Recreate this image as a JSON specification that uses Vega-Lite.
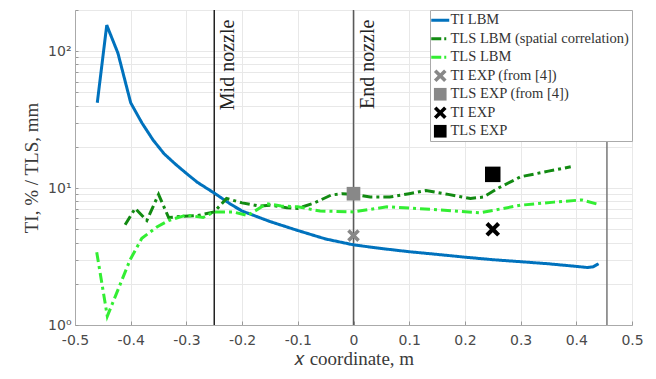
{
  "$schema": "https://vega.github.io/schema/vega-lite/v6.json",
  "width": 557,
  "height": 315,
  "autosize": {"type": "none"},
  "padding": {"left": 75, "top": 10, "right": 24, "bottom": 54},
  "background": "white",
  "config": {
    "view": {"stroke": "#c8c8c8", "strokeWidth": 1},
    "axis": {
      "labelFont": "DejaVu Sans",
      "labelFontSize": 14,
      "labelColor": "#4a4a4a",
      "labelFlush": false,
      "titleFont": "Liberation Serif",
      "titleFontSize": 19,
      "titleFontWeight": "normal",
      "titleColor": "#3a3a3a",
      "gridColor": "#e8e8e8",
      "gridWidth": 1,
      "domainColor": "#aaaaaa",
      "tickColor": "#999999"
    }
  },
  "datasets": {
    "curves": [
      {"series": "TI LBM", "x": -0.46, "y": 42},
      {"series": "TI LBM", "x": -0.443, "y": 155},
      {"series": "TI LBM", "x": -0.423, "y": 97},
      {"series": "TI LBM", "x": -0.4, "y": 42},
      {"series": "TI LBM", "x": -0.38, "y": 30},
      {"series": "TI LBM", "x": -0.36, "y": 22.5},
      {"series": "TI LBM", "x": -0.34, "y": 17.8},
      {"series": "TI LBM", "x": -0.32, "y": 15},
      {"series": "TI LBM", "x": -0.3, "y": 12.8},
      {"series": "TI LBM", "x": -0.28, "y": 11},
      {"series": "TI LBM", "x": -0.25, "y": 9.2},
      {"series": "TI LBM", "x": -0.22, "y": 7.6},
      {"series": "TI LBM", "x": -0.2, "y": 6.8},
      {"series": "TI LBM", "x": -0.15, "y": 5.7},
      {"series": "TI LBM", "x": -0.1, "y": 4.9},
      {"series": "TI LBM", "x": -0.05, "y": 4.25},
      {"series": "TI LBM", "x": 0, "y": 3.85},
      {"series": "TI LBM", "x": 0.05, "y": 3.62},
      {"series": "TI LBM", "x": 0.1, "y": 3.43},
      {"series": "TI LBM", "x": 0.15, "y": 3.28},
      {"series": "TI LBM", "x": 0.2, "y": 3.13},
      {"series": "TI LBM", "x": 0.25, "y": 3.0},
      {"series": "TI LBM", "x": 0.3, "y": 2.9},
      {"series": "TI LBM", "x": 0.35, "y": 2.8},
      {"series": "TI LBM", "x": 0.4, "y": 2.68},
      {"series": "TI LBM", "x": 0.42, "y": 2.63},
      {"series": "TI LBM", "x": 0.43, "y": 2.66},
      {"series": "TI LBM", "x": 0.44, "y": 2.8},
      {"series": "TLS LBM (spatial correlation)", "x": -0.41, "y": 5.4},
      {"series": "TLS LBM (spatial correlation)", "x": -0.392, "y": 7.1},
      {"series": "TLS LBM (spatial correlation)", "x": -0.371, "y": 5.8},
      {"series": "TLS LBM (spatial correlation)", "x": -0.35, "y": 9.0},
      {"series": "TLS LBM (spatial correlation)", "x": -0.332, "y": 6.1},
      {"series": "TLS LBM (spatial correlation)", "x": -0.31, "y": 6.2},
      {"series": "TLS LBM (spatial correlation)", "x": -0.28, "y": 6.3},
      {"series": "TLS LBM (spatial correlation)", "x": -0.25, "y": 6.7},
      {"series": "TLS LBM (spatial correlation)", "x": -0.228, "y": 8.4},
      {"series": "TLS LBM (spatial correlation)", "x": -0.2, "y": 7.8},
      {"series": "TLS LBM (spatial correlation)", "x": -0.17, "y": 7.4},
      {"series": "TLS LBM (spatial correlation)", "x": -0.15, "y": 7.5},
      {"series": "TLS LBM (spatial correlation)", "x": -0.12, "y": 7.2},
      {"series": "TLS LBM (spatial correlation)", "x": -0.1, "y": 7.1},
      {"series": "TLS LBM (spatial correlation)", "x": -0.07, "y": 7.8},
      {"series": "TLS LBM (spatial correlation)", "x": -0.04, "y": 8.9},
      {"series": "TLS LBM (spatial correlation)", "x": -0.02, "y": 9.1},
      {"series": "TLS LBM (spatial correlation)", "x": 0, "y": 9.0},
      {"series": "TLS LBM (spatial correlation)", "x": 0.03, "y": 8.6},
      {"series": "TLS LBM (spatial correlation)", "x": 0.065, "y": 8.6},
      {"series": "TLS LBM (spatial correlation)", "x": 0.1, "y": 9.1},
      {"series": "TLS LBM (spatial correlation)", "x": 0.13, "y": 9.6},
      {"series": "TLS LBM (spatial correlation)", "x": 0.17, "y": 9.0},
      {"series": "TLS LBM (spatial correlation)", "x": 0.21, "y": 8.4},
      {"series": "TLS LBM (spatial correlation)", "x": 0.233, "y": 8.6},
      {"series": "TLS LBM (spatial correlation)", "x": 0.26, "y": 10.0},
      {"series": "TLS LBM (spatial correlation)", "x": 0.3, "y": 12.1},
      {"series": "TLS LBM (spatial correlation)", "x": 0.35, "y": 13.3},
      {"series": "TLS LBM (spatial correlation)", "x": 0.39, "y": 14.3},
      {"series": "TLS LBM", "x": -0.461, "y": 3.4},
      {"series": "TLS LBM", "x": -0.442, "y": 1.16},
      {"series": "TLS LBM", "x": -0.401, "y": 3.0},
      {"series": "TLS LBM", "x": -0.38, "y": 4.3},
      {"series": "TLS LBM", "x": -0.353, "y": 5.2},
      {"series": "TLS LBM", "x": -0.332, "y": 5.8},
      {"series": "TLS LBM", "x": -0.3, "y": 6.35},
      {"series": "TLS LBM", "x": -0.27, "y": 6.1},
      {"series": "TLS LBM", "x": -0.25, "y": 6.7},
      {"series": "TLS LBM", "x": -0.216, "y": 6.7},
      {"series": "TLS LBM", "x": -0.19, "y": 6.3},
      {"series": "TLS LBM", "x": -0.156, "y": 7.7},
      {"series": "TLS LBM", "x": -0.13, "y": 7.4},
      {"series": "TLS LBM", "x": -0.1, "y": 7.3},
      {"series": "TLS LBM", "x": -0.06, "y": 6.8},
      {"series": "TLS LBM", "x": 0, "y": 6.7},
      {"series": "TLS LBM", "x": 0.06, "y": 7.3},
      {"series": "TLS LBM", "x": 0.137, "y": 7.0},
      {"series": "TLS LBM", "x": 0.227, "y": 6.6},
      {"series": "TLS LBM", "x": 0.3, "y": 7.5},
      {"series": "TLS LBM", "x": 0.36, "y": 7.9},
      {"series": "TLS LBM", "x": 0.41, "y": 8.2},
      {"series": "TLS LBM", "x": 0.44, "y": 7.6}
    ],
    "markers": [
      {"series": "TI EXP (from [4])", "x": 0, "y": 4.5},
      {"series": "TLS EXP (from [4])", "x": 0, "y": 9.1},
      {"series": "TI EXP", "x": 0.25, "y": 5.0},
      {"series": "TLS EXP", "x": 0.25, "y": 12.6}
    ],
    "vlines": [
      {"x": -0.25, "kind": "mid"},
      {"x": 0, "kind": "end"},
      {"x": 0.455, "kind": "wall"}
    ],
    "labels": [
      {"x": -0.25, "y": 170, "label": "Mid nozzle"},
      {"x": 0, "y": 170, "label": "End nozzle"}
    ]
  },
  "layer": [
    {
      "data": {"name": "vlines"},
      "mark": {"type": "rule", "strokeWidth": 1.5},
      "encoding": {
        "x": {"field": "x", "type": "quantitative"},
        "stroke": {
          "field": "kind",
          "type": "nominal",
          "scale": {"domain": ["mid", "end", "wall"], "range": ["#222222", "#5a5a5a", "#777777"]},
          "legend": null
        }
      }
    },
    {
      "data": {"name": "labels"},
      "mark": {"type": "text", "angle": 270, "align": "right", "baseline": "top", "dy": 4, "font": "Liberation Serif", "fontSize": 20, "color": "#222222"},
      "encoding": {
        "x": {"field": "x", "type": "quantitative"},
        "y": {"field": "y", "type": "quantitative"},
        "text": {"field": "label"}
      }
    },
    {
      "data": {"name": "curves"},
      "mark": {"type": "line", "strokeWidth": 3},
      "encoding": {
        "x": {
          "field": "x", "type": "quantitative",
          "scale": {"domain": [-0.5, 0.5], "nice": false, "zero": false},
          "axis": {
            "title": "𝑥 coordinate, m",
            "values": [-0.5, -0.4, -0.3, -0.2, -0.1, 0, 0.1, 0.2, 0.3, 0.4, 0.5],
            "labelExpr": "datum.value === 0 ? '0' : (datum.value < 0 ? '-' + format(-datum.value, '.1f') : format(datum.value, '.1f'))",
            "tickSize": -4,
            "labelPadding": 12,
            "titlePadding": 2,
            "grid": true
          }
        },
        "y": {
          "field": "y", "type": "quantitative",
          "scale": {"type": "log", "domain": [1, 200], "nice": false},
          "axis": {
            "title": "TI, % / TLS, mm",
            "values": [1, 2, 3, 4, 5, 6, 7, 8, 9, 10, 20, 30, 40, 50, 60, 70, 80, 90, 100, 200],
            "labelExpr": "datum.value === 1 ? '10⁰' : (datum.value === 10 ? '10¹' : (datum.value === 100 ? '10²' : ''))",
            "tickSize": -3,
            "labelPadding": 7,
            "titlePadding": 6,
            "grid": true
          }
        },
        "color": {
          "field": "series", "type": "nominal",
          "scale": {
            "domain": ["TI LBM", "TLS LBM (spatial correlation)", "TLS LBM", "TI EXP (from [4])", "TLS EXP (from [4])", "TI EXP", "TLS EXP"],
            "range": ["#0072BD", "#128a12", "#33ee33", "#888888", "#888888", "#000000", "#000000"]
          },
          "legend": {
            "title": null,
            "orient": "top-right",
            "offset": 0,
            "padding": 3,
            "fillColor": "white",
            "strokeColor": "#aaaaaa",
            "labelFont": "Liberation Serif",
            "labelFontSize": 14.5,
            "labelColor": "#333333",
            "labelLimit": 400,
            "labelOffset": 3,
            "rowPadding": 3.5,
            "symbolSize": 300,
            "encode": {
              "symbols": {
                "update": {
                  "shape": {"signal": "indexof(['TI LBM','TLS LBM','TLS LBM (spatial correlation)'], datum.value) >= 0 ? 'stroke' : (indexof(['TI EXP','TI EXP (from [4])'], datum.value) >= 0 ? 'M-1,-0.6L-0.6,-1L0,-0.4L0.6,-1L1,-0.6L0.4,0L1,0.6L0.6,1L0,0.4L-0.6,1L-1,0.6L-0.4,0Z' : 'square')"},
                  "strokeDash": {"signal": "indexof(['TLS LBM','TLS LBM (spatial correlation)'], datum.value) >= 0 ? [10,3,2,3] : [1,0]"},
                  "strokeWidth": {"signal": "indexof(['TI LBM','TLS LBM','TLS LBM (spatial correlation)'], datum.value) >= 0 ? 3 : 0"},
                  "size": {"signal": "indexof(['TI LBM','TLS LBM','TLS LBM (spatial correlation)'], datum.value) >= 0 ? 324 : 160"},
                  "fill": {"scale": "color", "field": "value"},
                  "stroke": {"scale": "color", "field": "value"},
                  "opacity": {"value": 1}
                }
              }
            }
          }
        },
        "strokeDash": {
          "field": "series", "type": "nominal",
          "scale": {
            "domain": ["TI LBM", "TLS LBM (spatial correlation)", "TLS LBM"],
            "range": [[1, 0], [10, 4, 3, 4], [10, 4, 3, 4]]
          },
          "legend": null
        }
      }
    },
    {
      "data": {"name": "markers"},
      "mark": {"type": "point", "filled": true, "opacity": 1},
      "encoding": {
        "x": {"field": "x", "type": "quantitative"},
        "y": {"field": "y", "type": "quantitative"},
        "color": {
          "field": "series", "type": "nominal",
          "scale": {
            "domain": ["TI LBM", "TLS LBM (spatial correlation)", "TLS LBM", "TI EXP (from [4])", "TLS EXP (from [4])", "TI EXP", "TLS EXP"],
            "range": ["#0072BD", "#128a12", "#33ee33", "#888888", "#888888", "#000000", "#000000"]
          },
          "legend": {
            "title": null,
            "orient": "top-right",
            "offset": 0,
            "padding": 3,
            "fillColor": "white",
            "strokeColor": "#aaaaaa",
            "labelFont": "Liberation Serif",
            "labelFontSize": 14.5,
            "labelColor": "#333333",
            "labelLimit": 400,
            "labelOffset": 3,
            "rowPadding": 3.5,
            "symbolSize": 300
          }
        },
        "shape": {
          "field": "series", "type": "nominal",
          "scale": {
            "domain": ["TI EXP (from [4])", "TLS EXP (from [4])", "TI EXP", "TLS EXP"],
            "range": ["M-1,-0.6L-0.6,-1L0,-0.4L0.6,-1L1,-0.6L0.4,0L1,0.6L0.6,1L0,0.4L-0.6,1L-1,0.6L-0.4,0Z", "square", "M-1,-0.6L-0.6,-1L0,-0.4L0.6,-1L1,-0.6L0.4,0L1,0.6L0.6,1L0,0.4L-0.6,1L-1,0.6L-0.4,0Z", "square"]
          },
          "legend": null
        },
        "size": {
          "field": "series", "type": "nominal",
          "scale": {
            "domain": ["TI EXP (from [4])", "TLS EXP (from [4])", "TI EXP", "TLS EXP"],
            "range": [160, 240, 170, 240]
          },
          "legend": null
        }
      }
    }
  ]
}
